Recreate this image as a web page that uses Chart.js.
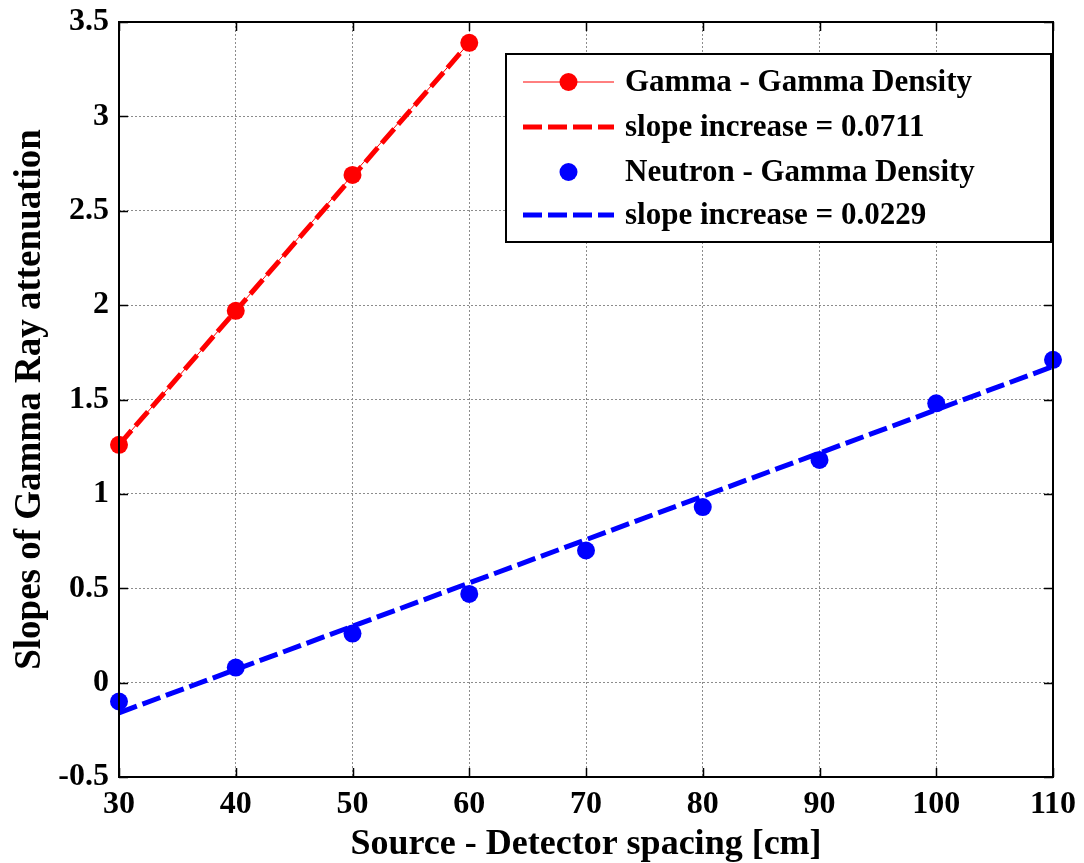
<!DOCTYPE html>
<html>
<head>
<meta charset="utf-8">
<script src="https://cdn.jsdelivr.net/npm/chart.js@4.4.0/dist/chart.umd.min.js"></script>
<style>
  html, body { margin: 0; padding: 0; background: #fff; }
  #wrap { width: 1084px; height: 863px; }
</style>
</head>
<body>
<div id="wrap"><canvas id="chartSlopes"></canvas></div>
<script>
// spacing in cm
const spacingGamma = [30, 40, 50, 60];
const spacingNeutron = [30, 40, 50, 60, 70, 80, 90, 100, 110];

// measured slopes
const slopesGamma = [1.26, 1.97, 2.69, 3.39];
const slopesNeutron = [-0.10, 0.08, 0.26, 0.47, 0.70, 0.93, 1.18, 1.48, 1.71];

// linear fits (end points)
const fitGammaX = [30, 60];
const fitGammaY = [1.26, 3.39];
const fitNeutronX = [30, 110];
const fitNeutronY = [-0.16, 1.675];

const xTicks = [30, 40, 50, 60, 70, 80, 90, 100, 110];
const yTicks = [-0.5, 0, 0.5, 1, 1.5, 2, 2.5, 3, 3.5];

const legendLabels = [
  'Gamma - Gamma Density',
  'slope increase = 0.0711',
  'Neutron - Gamma Density',
  'slope increase = 0.0229',
];

const FONT = "'Liberation Serif', 'Times New Roman', serif";
const RED = '#ff0000';
const BLUE = '#0000ff';

const toPoints = (xs, ys) => xs.map((x, i) => ({ x: x, y: ys[i] }));

// drop the label overhang padding so layout.padding sets the plot box
const noOverhang = (scale) => {
  scale.paddingTop = 0;
  scale.paddingBottom = 0;
  scale.paddingLeft = 0;
  scale.paddingRight = 0;
};

// MATLAB-like box, inward ticks and legend
const matlabBox = {
  id: 'matlabBox',
  afterDraw(chart) {
    const { ctx, chartArea: a, scales } = chart;
    const tick = 9;
    ctx.save();
    ctx.strokeStyle = '#000';
    ctx.lineWidth = 1.5;
    ctx.beginPath();
    xTicks.forEach(v => {
      const px = Math.round(scales.x.getPixelForValue(v)) + 0.5;
      ctx.moveTo(px, a.bottom); ctx.lineTo(px, a.bottom - tick);
      ctx.moveTo(px, a.top); ctx.lineTo(px, a.top + tick);
    });
    yTicks.forEach(v => {
      const py = Math.round(scales.y.getPixelForValue(v)) + 0.5;
      ctx.moveTo(a.left, py); ctx.lineTo(a.left + tick, py);
      ctx.moveTo(a.right, py); ctx.lineTo(a.right - tick, py);
    });
    ctx.stroke();
    ctx.lineWidth = 2;
    ctx.strokeRect(a.left, a.top, a.right - a.left, a.bottom - a.top);

    // legend
    const lx = a.left + 387, ly = a.top + 32, lw = 545, lh = 188;
    ctx.fillStyle = '#fff';
    ctx.fillRect(lx, ly, lw, lh);
    ctx.lineWidth = 2;
    ctx.strokeRect(lx, ly, lw, lh);
    const rows = [28, 73, 118, 161];
    const x0 = lx + 17, x1 = lx + 108, xm = (x0 + x1) / 2;
    const styles = [
      { color: RED, line: 'solid', marker: true },
      { color: RED, line: 'dash', marker: false },
      { color: BLUE, line: 'none', marker: true },
      { color: BLUE, line: 'dash', marker: false },
    ];
    styles.forEach((s, i) => {
      const y = ly + rows[i];
      ctx.strokeStyle = s.color;
      ctx.fillStyle = s.color;
      if (s.line === 'solid') {
        ctx.setLineDash([]);
        ctx.lineWidth = 1;
        ctx.beginPath(); ctx.moveTo(x0, y); ctx.lineTo(x1, y); ctx.stroke();
      } else if (s.line === 'dash') {
        ctx.setLineDash([19, 6]);
        ctx.lineWidth = 5;
        ctx.beginPath(); ctx.moveTo(x0, y); ctx.lineTo(x1, y); ctx.stroke();
        ctx.setLineDash([]);
      }
      if (s.marker) {
        ctx.beginPath(); ctx.arc(xm, y, 9, 0, Math.PI * 2); ctx.fill();
      }
      ctx.fillStyle = '#000';
      ctx.font = 'bold 31px ' + FONT;
      ctx.textBaseline = 'middle';
      ctx.textAlign = 'left';
      ctx.fillText(legendLabels[i], lx + 119, y + 1);
    });
    ctx.restore();
  },
};

new Chart(document.getElementById('chartSlopes'), {
  type: 'line',
  data: {
    datasets: [
      {
        label: legendLabels[0],
        data: toPoints(spacingGamma, slopesGamma),
        borderColor: RED,
        backgroundColor: RED,
        borderWidth: 1,
        pointRadius: 9,
        pointBorderWidth: 0,
        pointBackgroundColor: RED,
        clip: false,
      },
      {
        label: legendLabels[2],
        data: toPoints(spacingNeutron, slopesNeutron),
        showLine: false,
        borderColor: BLUE,
        backgroundColor: BLUE,
        pointRadius: 9,
        pointBorderWidth: 0,
        pointBackgroundColor: BLUE,
        clip: false,
      },
      {
        label: legendLabels[1],
        data: toPoints(fitGammaX, fitGammaY),
        borderColor: RED,
        borderWidth: 5,
        borderDash: [19, 6],
        pointRadius: 0,
        clip: false,
      },
      {
        label: legendLabels[3],
        data: toPoints(fitNeutronX, fitNeutronY),
        borderColor: BLUE,
        borderWidth: 5,
        borderDash: [19, 6],
        pointRadius: 0,
        clip: false,
      },
    ],
  },
  options: {
    responsive: true,
    maintainAspectRatio: false,
    animation: false,
    layout: { autoPadding: false, padding: { top: 22, right: 31, left: 0, bottom: 0 } },
    plugins: { legend: { display: false }, tooltip: { enabled: false } },
    scales: {
      x: {
        type: 'linear',
        min: 30,
        max: 110,
        afterBuildTicks: (scale) => { scale.ticks = xTicks.map(v => ({ value: v })); },
        afterFit: (scale) => { scale.height = 86; noOverhang(scale); },
        grid: { color: '#8c8c8c', lineWidth: 1, drawTicks: false },
        border: { display: false, dash: [2, 2] },
        ticks: {
          color: '#000',
          padding: 12,
          callback: (v) => String(v),
          font: { family: FONT, size: 32, weight: 'bold', lineHeight: 1.0 },
        },
        title: {
          display: true,
          text: 'Source - Detector spacing [cm]',
          color: '#000',
          padding: { top: 0, bottom: 0 },
          font: { family: FONT, size: 36, weight: 'bold', lineHeight: 1.0 },
        },
      },
      y: {
        type: 'linear',
        min: -0.5,
        max: 3.5,
        afterBuildTicks: (scale) => { scale.ticks = yTicks.map(v => ({ value: v })); },
        afterFit: (scale) => { scale.width = 119; noOverhang(scale); },
        grid: { color: '#8c8c8c', lineWidth: 1, drawTicks: false },
        border: { display: false, dash: [2, 2] },
        ticks: {
          color: '#000',
          padding: 10,
          callback: (v) => String(v),
          font: { family: FONT, size: 32, weight: 'bold', lineHeight: 1.0 },
        },
        title: {
          display: true,
          text: 'Slopes of Gamma Ray attenuation',
          color: '#000',
          padding: { top: 12, bottom: 0 },
          font: { family: FONT, size: 37, weight: 'bold', lineHeight: 1.0 },
        },
      },
    },
  },
  plugins: [matlabBox],
});
</script>
</body>
</html>
